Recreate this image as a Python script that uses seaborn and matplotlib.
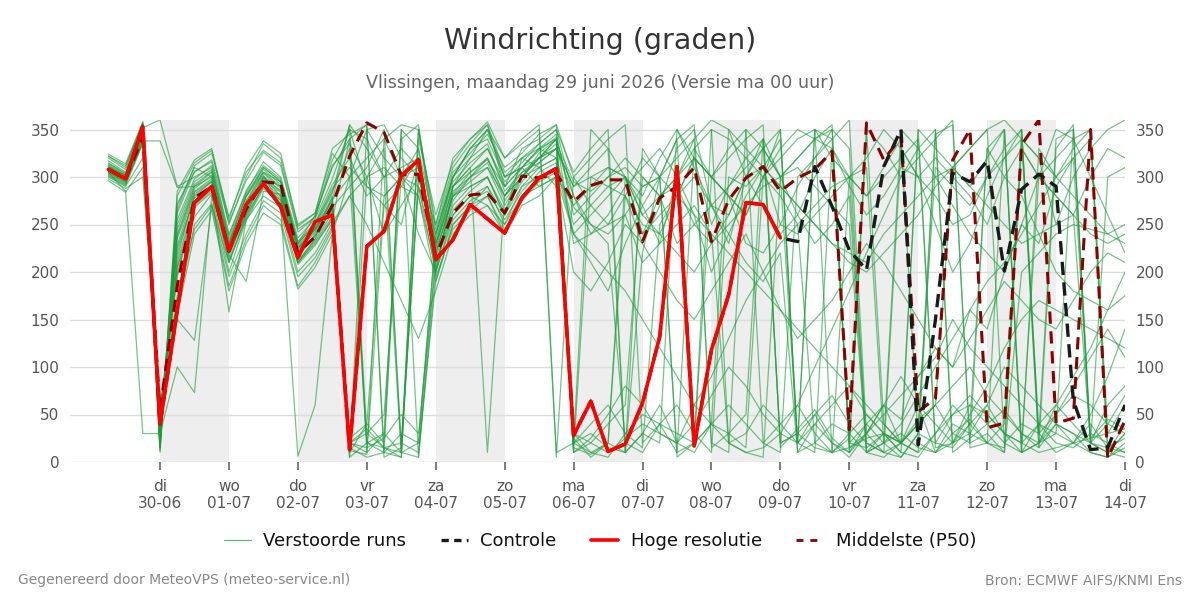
import numpy as np
import pandas as pd
import matplotlib
matplotlib.use("Agg")
import matplotlib.pyplot as plt
from matplotlib.lines import Line2D
import seaborn as sns

# ---------------- data ----------------
title = "Windrichting (graden)"
subtitle = "Vlissingen, maandag 29 juni 2026 (Versie ma 00 uur)"
footer_left = "Gegenereerd door MeteoVPS (meteo-service.nl)"
footer_right = "Bron: ECMWF AIFS/KNMI Ens"

start_time = "2026-06-29 06:00"   # first forecast step, 6-hourly
day_names = ["di", "wo", "do", "vr", "za", "zo", "ma", "di", "wo", "do", "vr", "za", "zo", "ma", "di"]
day_dates = ["30-06", "01-07", "02-07", "03-07", "04-07", "05-07", "06-07", "07-07",
             "08-07", "09-07", "10-07", "11-07", "12-07", "13-07", "14-07"]
shaded_days = ["2026-06-30", "2026-07-02", "2026-07-04", "2026-07-06",
               "2026-07-08", "2026-07-10", "2026-07-12"]
y_ticks = [0, 50, 100, 150, 200, 250, 300, 350]

hoge_resolutie = [308, 298, 353, 40, 160, 273, 290, 222, 271, 293, 269, 215, 253, 260, 13,
                  227, 243, 301, 318, 213, 234, 271, 256, 241, 278, 299, 309, 28, 64, 11,
                  19, 62, 132, 311, 17, 118, 176, 273, 271, 236]

controle = [308, 298, 353, 40, 160, 273, 290, 222, 271, 293, 269, 215, 253, 260, 13,
            227, 243, 301, 318, 213, 234, 271, 256, 241, 278, 299, 309, 28, 64, 11,
            19, 62, 132, 311, 17, 118, 176, 273, 271, 236, 232, 311, 269, 223, 202,
            311, 350, 18, 150, 304, 295, 317, 201, 287, 303, 290, 65, 13, 15, 60]

middelste_p50 = [308, 298, 342, 55, 185, 278, 290, 223, 266, 295, 293, 220, 237, 270, 322,
                 357, 347, 302, 303, 216, 262, 281, 283, 262, 301, 299, 304, 274, 291, 297,
                 297, 232, 278, 290, 310, 232, 276, 299, 311, 285, 299, 308, 327, 34, 357,
                 318, 342, 53, 67, 318, 350, 36, 41, 334, 360, 41, 46, 350, 4, 44]

ens_01 = [310, 300, 350, 30, 240, 290, 305, 225, 275, 305, 290, 225, 245, 275,
          355, 330, 300, 310, 320, 220, 280, 300, 310, 280, 310, 320, 330, 290, 300, 310, 300, 240, 280, 300,
          320, 250, 290, 310, 330, 300, 320, 340, 350, 15, 25, 30, 20, 45, 60, 310, 330, 350, 20, 40, 30, 340,
          350, 20, 10, 30]
ens_02 = [305, 295, 340, 45, 220, 280, 295, 215, 265, 295, 280, 215, 240, 265,
          10, 40, 20, 350, 5, 200, 290, 310, 10, 280, 300, 320, 340, 20, 350, 330, 10, 220, 300, 340, 355, 15,
          30, 50, 340, 20, 30, 15, 10, 25, 350, 40, 20, 60, 10, 30, 45, 20, 15, 350, 30, 10, 20, 40, 15, 25]
ens_03 = [322, 312, 356, 15, 280, 315, 328, 250, 300, 335, 320, 250, 262, 325,
          300, 350, 355, 320, 300, 240, 300, 330, 340, 300, 320, 310, 290, 30, 10, 20, 280, 230, 270, 330, 350,
          270, 260, 300, 310, 250, 240, 260, 280, 300, 320, 350, 330, 300, 280, 250, 260, 300, 330, 350, 20, 60,
          90, 120, 160, 200]
ens_04 = [296, 284, 310, 58, 175, 245, 270, 185, 235, 270, 255, 185, 210, 245,
          20, 10, 30, 350, 330, 200, 260, 280, 290, 250, 280, 300, 310, 240, 220, 200, 180, 150, 120, 90, 60,
          40, 20, 10, 15, 30, 60, 100, 140, 180, 220, 260, 300, 330, 350, 20, 50, 80, 120, 150, 170, 160, 150,
          140, 130, 120]
ens_05 = [315, 303, 348, 25, 265, 312, 325, 258, 305, 328, 315, 245, 258, 318,
          350, 290, 280, 300, 330, 240, 300, 320, 350, 300, 310, 330, 320, 250, 270, 290, 300, 270, 230, 300,
          260, 200, 240, 280, 310, 290, 270, 250, 230, 220, 210, 240, 260, 280, 300, 310, 290, 270, 250, 230,
          240, 250, 260, 240, 230, 240]
ens_06 = [308, 298, 345, 40, 210, 275, 290, 220, 260, 300, 285, 210, 235, 280,
          5, 20, 15, 10, 300, 230, 280, 290, 300, 260, 320, 330, 340, 20, 10, 5, 30, 50, 40, 30, 20, 350, 340,
          320, 300, 280, 250, 20, 10, 15, 30, 60, 20, 10, 345, 355, 15, 20, 40, 330, 300, 280, 260, 20, 15, 10]
ens_07 = [322, 310, 358, 10, 270, 310, 300, 230, 280, 310, 295, 230, 260, 310,
          340, 355, 10, 5, 350, 250, 320, 340, 355, 290, 330, 340, 355, 10, 300, 290, 280, 250, 240, 220, 200,
          230, 250, 270, 290, 300, 310, 290, 270, 250, 10, 20, 40, 70, 100, 130, 160, 190, 210, 240, 270, 300,
          330, 350, 10, 40]
ens_08 = [298, 288, 300, 60, 160, 250, 272, 195, 240, 275, 262, 195, 215, 248,
          280, 300, 310, 290, 280, 190, 250, 270, 280, 240, 270, 280, 300, 270, 290, 310, 300, 260, 280, 300,
          330, 350, 20, 30, 60, 40, 20, 350, 320, 300, 280, 300, 320, 340, 20, 50, 60, 40, 20, 10, 330, 300,
          320, 340, 10, 5]
ens_09 = [305, 285, 30, 30, 100, 73, 280, 230, 270, 300, 290, 225, 245, 270,
          20, 30, 50, 300, 310, 210, 260, 280, 270, 250, 290, 300, 310, 10, 20, 40, 60, 300, 280, 230, 250, 270,
          290, 320, 340, 300, 20, 40, 60, 80, 50, 30, 20, 40, 60, 80, 100, 70, 50, 30, 20, 40, 30, 20, 60, 80]
ens_10 = [310, 302, 352, 360, 290, 300, 310, 230, 280, 305, 295, 230, 250, 285,
          330, 20, 10, 340, 355, 230, 300, 330, 350, 300, 310, 290, 300, 240, 260, 280, 300, 240, 260, 280, 320,
          300, 280, 260, 300, 330, 350, 340, 330, 300, 20, 10, 5, 30, 20, 15, 40, 330, 300, 280, 240, 200, 180,
          170, 160, 175]
ens_11 = [303, 293, 338, 338, 289, 290, 300, 220, 265, 300, 280, 218, 238, 265,
          10, 350, 320, 300, 290, 215, 270, 290, 300, 260, 300, 320, 330, 280, 240, 250, 260, 210, 230, 250,
          270, 240, 20, 10, 5, 300, 320, 340, 355, 10, 30, 50, 70, 90, 110, 150, 120, 100, 80, 60, 40, 30, 20,
          10, 5, 15]
ens_12 = [307, 297, 343, 35, 150, 128, 270, 210, 260, 290, 275, 210, 230, 255,
          340, 30, 15, 20, 290, 200, 285, 300, 320, 280, 300, 310, 320, 30, 20, 10, 25, 40, 30, 20, 60, 90, 130,
          170, 200, 230, 250, 270, 290, 300, 310, 20, 30, 15, 10, 20, 40, 60, 30, 20, 300, 320, 340, 350, 30, 60]
ens_13 = [312, 301, 350, 28, 235, 285, 298, 228, 272, 302, 270, 6, 60, 240,
          300, 320, 340, 355, 350, 225, 290, 310, 330, 290, 310, 330, 345, 260, 280, 300, 310, 290, 300, 320,
          340, 360, 350, 330, 310, 290, 270, 250, 230, 210, 200, 220, 240, 260, 290, 310, 330, 350, 360, 340,
          320, 300, 280, 260, 240, 230]
ens_14 = [309, 299, 346, 42, 215, 282, 295, 218, 190, 285, 282, 222, 242, 272,
          15, 5, 10, 30, 20, 240, 300, 330, 350, 320, 340, 355, 10, 20, 30, 15, 10, 330, 300, 280, 260, 240,
          220, 200, 180, 160, 140, 120, 100, 80, 60, 40, 20, 10, 30, 50, 70, 50, 30, 20, 10, 15, 20, 25, 30, 35]
ens_15 = [314, 304, 355, 18, 255, 298, 312, 238, 286, 312, 298, 232, 252, 292,
          320, 280, 300, 330, 310, 230, 290, 320, 335, 285, 305, 315, 330, 290, 310, 330, 300, 280, 320, 350,
          310, 270, 230, 300, 340, 20, 30, 50, 20, 10, 350, 330, 300, 320, 340, 360, 20, 30, 10, 340, 320, 250,
          300, 330, 350, 360]
ens_16 = [302, 292, 338, 50, 205, 272, 288, 212, 258, 292, 278, 212, 234, 262,
          5, 300, 330, 20, 10, 190, 250, 270, 290, 260, 290, 310, 320, 240, 210, 180, 230, 270, 300, 5, 20, 40,
          350, 300, 270, 240, 260, 300, 330, 20, 15, 30, 10, 5, 30, 60, 40, 20, 350, 10, 20, 50, 80, 110, 140,
          110]
ens_17 = [311, 300, 351, 22, 245, 292, 306, 232, 279, 308, 292, 228, 247, 283,
          355, 10, 340, 300, 280, 205, 275, 300, 315, 275, 300, 325, 340, 25, 5, 20, 300, 260, 240, 280, 320,
          300, 280, 230, 220, 250, 290, 320, 350, 330, 10, 30, 20, 40, 310, 290, 270, 300, 320, 340, 15, 40, 30,
          10, 5, 20]
ens_18 = [306, 296, 342, 48, 225, 278, 292, 220, 262, 296, 284, 218, 238, 268,
          290, 310, 350, 10, 20, 235, 295, 315, 330, 295, 315, 335, 350, 280, 250, 230, 20, 10, 40, 60, 30, 10,
          300, 290, 310, 340, 20, 50, 70, 40, 20, 10, 330, 300, 250, 200, 230, 280, 320, 350, 30, 50, 70, 60,
          40, 30]
ens_19 = [324, 314, 358, 12, 285, 318, 330, 255, 310, 338, 325, 248, 262, 330,
          345, 355, 5, 15, 350, 245, 305, 325, 345, 310, 325, 345, 355, 300, 270, 250, 280, 320, 300, 10, 20,
          300, 330, 350, 20, 40, 60, 30, 10, 300, 280, 310, 340, 20, 10, 40, 30, 20, 10, 200, 220, 240, 250,
          245, 240, 250]
ens_20 = [304, 294, 336, 52, 195, 268, 284, 158, 254, 288, 272, 208, 228, 256,
          25, 40, 280, 300, 240, 200, 255, 275, 285, 255, 285, 305, 315, 20, 40, 60, 30, 15, 250, 280, 300, 270,
          240, 210, 190, 220, 10, 20, 40, 30, 10, 5, 20, 40, 60, 30, 20, 330, 350, 10, 40, 20, 15, 30, 20, 10]
ens_21 = [313, 302, 353, 20, 250, 295, 308, 235, 282, 310, 296, 230, 250, 288,
          310, 290, 270, 250, 320, 225, 290, 305, 320, 280, 305, 320, 335, 295, 285, 300, 320, 300, 280, 290,
          250, 230, 260, 300, 330, 350, 20, 10, 330, 290, 260, 280, 310, 300, 320, 300, 280, 250, 300, 330,
          300, 280, 260, 300, 330, 320]
ens_22 = [300, 290, 320, 45, 155, 240, 265, 180, 230, 262, 250, 182, 205, 240,
          20, 15, 25, 50, 30, 210, 265, 285, 300, 265, 295, 315, 330, 10, 25, 50, 80, 60, 30, 20, 40, 70, 100,
          80, 50, 30, 20, 350, 340, 360, 30, 60, 90, 60, 40, 20, 30, 60, 100, 80, 60, 40, 20, 50, 90, 140]
ens_23 = [320, 308, 356, 14, 262, 306, 316, 240, 284, 316, 300, 236, 256, 298,
          350, 340, 300, 10, 5, 220, 280, 295, 310, 270, 300, 320, 340, 230, 240, 260, 290, 310, 330, 300, 340,
          20, 10, 350, 330, 300, 260, 230, 250, 280, 10, 20, 350, 330, 300, 270, 240, 220, 200, 250, 300, 350,
          340, 300, 260, 220]
ens_24 = [308, 298, 344, 38, 228, 284, 296, 224, 268, 298, 286, 224, 244, 276,
          300, 20, 30, 10, 300, 218, 282, 305, 318, 290, 310, 328, 342, 268, 250, 240, 260, 290, 300, 340, 20,
          40, 60, 40, 20, 10, 300, 320, 340, 20, 40, 60, 45, 90, 120, 100, 160, 140, 200, 250, 230, 290, 320,
          20, 40, 70]
ens_25 = [301, 291, 335, 54, 198, 270, 286, 210, 256, 290, 276, 210, 232, 258,
          12, 8, 270, 290, 320, 195, 245, 265, 280, 245, 275, 295, 305, 15, 8, 20, 10, 30, 60, 20, 10, 40, 30,
          15, 300, 350, 10, 40, 20, 5, 30, 10, 20, 350, 15, 20, 60, 50, 30, 10, 20, 30, 350, 20, 10, 30]
ens_26 = [317, 305, 354, 16, 272, 305, 318, 252, 296, 326, 312, 242, 258, 312,
          335, 300, 240, 270, 300, 250, 310, 335, 355, 305, 320, 335, 350, 305, 330, 350, 10, 30, 20, 350, 320,
          300, 280, 260, 300, 320, 340, 350, 10, 30, 50, 30, 10, 350, 330, 310, 290, 320, 350, 20, 40, 60, 40,
          20, 300, 310]
ens_27 = [305, 295, 341, 44, 205, 258, 282, 200, 255, 280, 268, 200, 220, 252,
          280, 250, 210, 170, 130, 180, 240, 260, 270, 240, 280, 290, 300, 200, 180, 210, 250, 230, 200, 170,
          150, 180, 210, 240, 200, 160, 130, 150, 170, 200, 230, 210, 180, 150, 120, 100, 130, 160, 190, 170,
          150, 140, 170, 200, 220, 210]
ens_28 = [311, 301, 349, 32, 238, 288, 302, 226, 274, 304, 288, 226, 246, 278,
          20, 35, 15, 5, 340, 260, 315, 340, 358, 320, 335, 350, 5, 300, 320, 340, 355, 20, 40, 10, 330, 300,
          320, 340, 355, 15, 35, 55, 25, 10, 40, 20, 5, 30, 350, 10, 25, 40, 55, 30, 15, 330, 355, 25, 45, 35]

members = [ens_01, ens_02, ens_03, ens_04, ens_05, ens_06, ens_07, ens_08, ens_09, ens_10,
           ens_11, ens_12, ens_13, ens_14, ens_15, ens_16, ens_17, ens_18, ens_19, ens_20,
           ens_21, ens_22, ens_23, ens_24, ens_25, ens_26, ens_27, ens_28]

# ---------------- build frames ----------------
n_steps = len(controle)
times = pd.date_range(start_time, periods=n_steps, freq="6h")

ens_rows = []
for k, m in enumerate(members):
    for t, v in zip(times, m):
        ens_rows.append({"tijd": t, "graden": v, "run": k})
df_ens = pd.DataFrame(ens_rows)
df_ctrl = pd.DataFrame({"tijd": times, "graden": controle})
df_p50 = pd.DataFrame({"tijd": times, "graden": middelste_p50})
df_hr = pd.DataFrame({"tijd": times[:len(hoge_resolutie)], "graden": hoge_resolutie})

# ---------------- plot ----------------
sns.set_style("white")
plt.rcParams["font.family"] = ["DejaVu Sans"]

fig = plt.figure(figsize=(12, 6), dpi=100)
ax = fig.add_axes([70 / 1200, 1 - 462 / 600, (1125 - 70) / 1200, (462 - 120) / 600])

green = "#1e9c3c"
sns.lineplot(data=df_ens, x="tijd", y="graden", units="run", estimator=None,
             color=green, linewidth=0.9, alpha=0.6, ax=ax, legend=False)
sns.lineplot(data=df_p50, x="tijd", y="graden", color="#8b0000", linewidth=2.2,
             ax=ax, legend=False)
ax.lines[-1].set_dashes([4, 2.5])
sns.lineplot(data=df_ctrl, x="tijd", y="graden", color="#1a1a1a", linewidth=2.4,
             ax=ax, legend=False)
ax.lines[-1].set_dashes([4, 2.2])
sns.lineplot(data=df_hr, x="tijd", y="graden", color="#ff0000", linewidth=2.6,
             ax=ax, legend=False)

# shaded alternate days
for d in shaded_days:
    d0 = pd.Timestamp(d)
    ax.axvspan(d0, d0 + pd.Timedelta(days=1), color="#eeeeee", zorder=0, lw=0)

x_left = pd.Timestamp("2026-06-30") - pd.Timedelta(hours=31.35)
x_right = pd.Timestamp("2026-07-14")
ax.set_xlim(x_left, x_right)
ax.set_ylim(0, 360)

tick_pos = pd.date_range("2026-06-30", periods=len(day_dates), freq="D")
ax.set_xticks(tick_pos)
ax.set_xticklabels([f"{a}\n{b}" for a, b in zip(day_names, day_dates)])
ax.set_yticks(y_ticks)
ax.set_yticklabels([str(v) for v in y_ticks])

ax.grid(axis="y", color="#dddddd", linewidth=1.0, zorder=0)
ax.grid(axis="x", visible=False)
ax.set_axisbelow(True)
for s in ax.spines.values():
    s.set_visible(False)

ax.tick_params(axis="x", length=6, width=1.2, color="#666666", pad=6,
               labelsize=11, labelcolor="#555555", bottom=True)
ax.tick_params(axis="y", left=False, right=False, labelleft=True, labelright=True,
               labelsize=11, labelcolor="#555555", pad=4)
ax.set_xlabel("")
ax.set_ylabel("")

fig.text(0.5, 0.932, title, ha="center", va="center", fontsize=20.5, color="#333333")
fig.text(0.5, 0.862, subtitle, ha="center", va="center", fontsize=12.6, color="#666666")

handles = [
    Line2D([0], [0], color=green, lw=0.9, alpha=0.7),
    Line2D([0], [0], color="#1a1a1a", lw=2.4, dashes=[2.2, 1.6]),
    Line2D([0], [0], color="#ff0000", lw=2.6),
    Line2D([0], [0], color="#8b0000", lw=2.0, dashes=[2.5, 2.5]),
]
labels = ["Verstoorde runs", "Controle", "Hoge resolutie", "Middelste (P50)"]
fig.legend(handles, labels, loc="center", bbox_to_anchor=(0.5, 0.098), ncol=4,
           frameon=False, fontsize=13, handlelength=1.5, handletextpad=0.7,
           columnspacing=1.9, labelcolor="#111111")

fig.text(0.015, 0.033, footer_left, ha="left", va="center", fontsize=10, color="#888888")
fig.text(0.985, 0.033, footer_right, ha="right", va="center", fontsize=10, color="#888888")

fig.savefig("out.png", dpi=100)
